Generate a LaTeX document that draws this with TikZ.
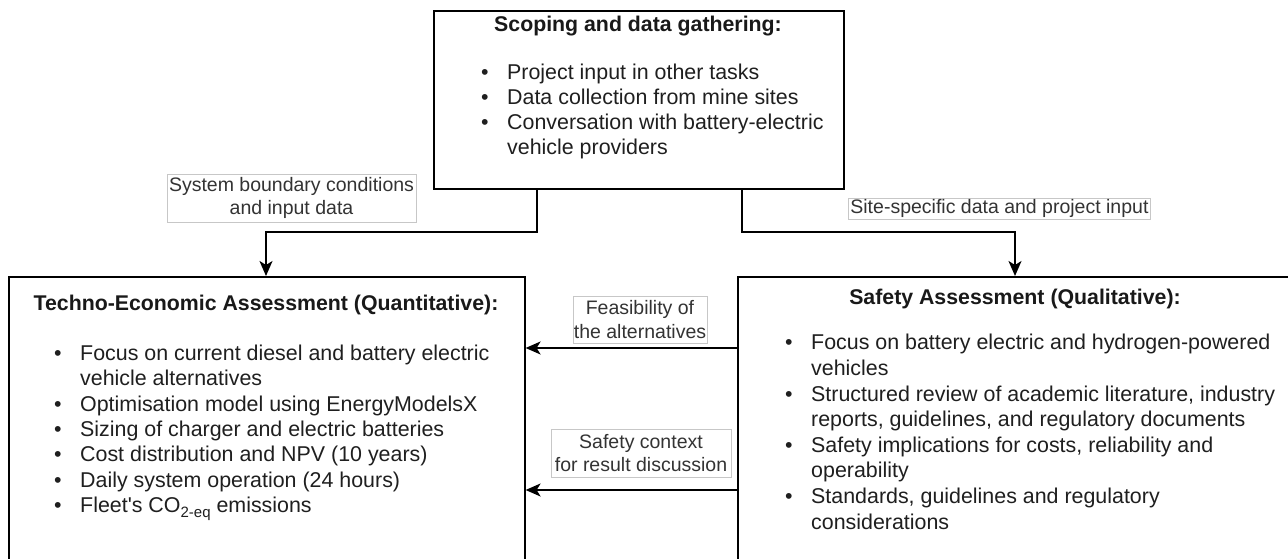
\documentclass[tikz,border=0pt]{standalone}
\usepackage{fontspec}
\setmainfont{Liberation Sans}
\usetikzlibrary{arrows.meta}
% bullet followed by item text, fixed indent
\newcommand{\bul}[1]{\makebox[26pt][l]{\textbullet}#1}
% lowered small subscript for CO2-eq
\newcommand{\lowsub}[1]{\raisebox{-5pt}{\fontsize{15}{15}\selectfont #1}}

\begin{document}
\begin{tikzpicture}[x=1pt,y=-1pt,
  box/.style={draw=black, line width=1.6pt, fill=white, inner sep=0pt, anchor=north west},
  ttl/.style={font=\fontsize{21.3}{25}\selectfont\bfseries, text=black!90, inner sep=0pt, anchor=base},
  txt/.style={font=\fontsize{21.4}{25}\selectfont, text=black!88, inner sep=0pt, anchor=base west},
  lbl/.style={draw=black!22, line width=0.8pt, fill=white, text=black!80,
    font=\fontsize{19.5}{23.5}\selectfont, align=center, inner sep=0pt},
  conn/.style={draw=black, line width=1.6pt},
  arr/.style={conn, -{Stealth[length=15pt,width=13pt,inset=4pt]}}]

\useasboundingbox (0,0) rectangle (1288,559);
\clip (0,0) rectangle (1288,559);

% main boxes
\node[box, minimum width=410pt, minimum height=178pt] (scoping) at (433,10) {};
\node[box, minimum width=516pt, minimum height=340pt] (tea) at (8,276) {};
\node[box, minimum width=600pt, minimum height=340pt] (safety) at (737,276) {};

% scoping box text
\node[ttl] (s0) at (638,32) {Scoping and data gathering:};
\node[txt] (s1) at (481,80) {\bul{Project input in other tasks}};
\node[txt] (s2) at (481,105) {\bul{Data collection from mine sites}};
\node[txt] (s3) at (481,130) {\bul{Conversation with battery-electric}};
\node[txt] (s4) at (507,155) {vehicle providers};

% techno-economic box text
\node[ttl] (e0) at (266,310) {Techno-Economic Assessment (Quantitative):};
\node[txt] (e1) at (54,360) {\bul{Focus on current diesel and battery electric}};
\node[txt] (e2) at (80,385) {vehicle alternatives};
\node[txt] (e3) at (54,411) {\bul{Optimisation model using EnergyModelsX}};
\node[txt] (e4) at (54,436) {\bul{Sizing of charger and electric batteries}};
\node[txt] (e5) at (54,461) {\bul{Cost distribution and NPV (10 years)}};
\node[txt] (e6) at (54,487) {\bul{Daily system operation (24 hours)}};
\node[txt] (e7) at (54,512) {\bul{Fleet\textquotesingle s CO\lowsub{2-eq} emissions}};

% safety box text
\node[ttl] (q0) at (1015,304) {Safety Assessment (Qualitative):};
\node[txt] (q1) at (785,349) {\bul{Focus on battery electric and hydrogen-powered}};
\node[txt] (q2) at (811,375) {vehicles};
\node[txt] (q3) at (785,401) {\bul{Structured review of academic literature, industry}};
\node[txt] (q4) at (811,426) {reports, guidelines, and regulatory documents};
\node[txt] (q5) at (785,452) {\bul{Safety implications for costs, reliability and}};
\node[txt] (q6) at (811,477) {operability};
\node[txt] (q7) at (785,503) {\bul{Standards, guidelines and regulatory}};
\node[txt] (q8) at (811,529) {considerations};

% connectors
\coordinate (k1) at (537,232);
\coordinate (k2) at (266,232);
\draw[arr] (scoping.south -| k1) -- (k1) -- (k2) -- (tea.north -| k2);
\coordinate (k3) at (742,232);
\coordinate (k4) at (1015,232);
\draw[arr] (scoping.south -| k3) -- (k3) -- (k4) -- (safety.north -| k4);
\coordinate (f1) at (0,348);
\draw[arr] (safety.west |- f1) -- (tea.east |- f1);
\coordinate (f2) at (0,490);
\draw[arr] (safety.west |- f2) -- (tea.east |- f2);

% connector labels
\node[lbl, minimum width=249pt, minimum height=48pt] (l1) at (291.5,198)
  {System boundary conditions\\and input data};
\node[lbl, minimum height=21pt, inner xsep=2pt, anchor=west] (l2) at (848,208.5)
  {Site-specific data and project input};
\node[lbl, minimum width=134pt, minimum height=47pt] (l3) at (640,319.5)
  {Feasibility of\\the alternatives};
\node[lbl, minimum width=180pt, minimum height=48pt] (l4) at (641,453)
  {Safety context\\for result discussion};
\end{tikzpicture}
\end{document}
